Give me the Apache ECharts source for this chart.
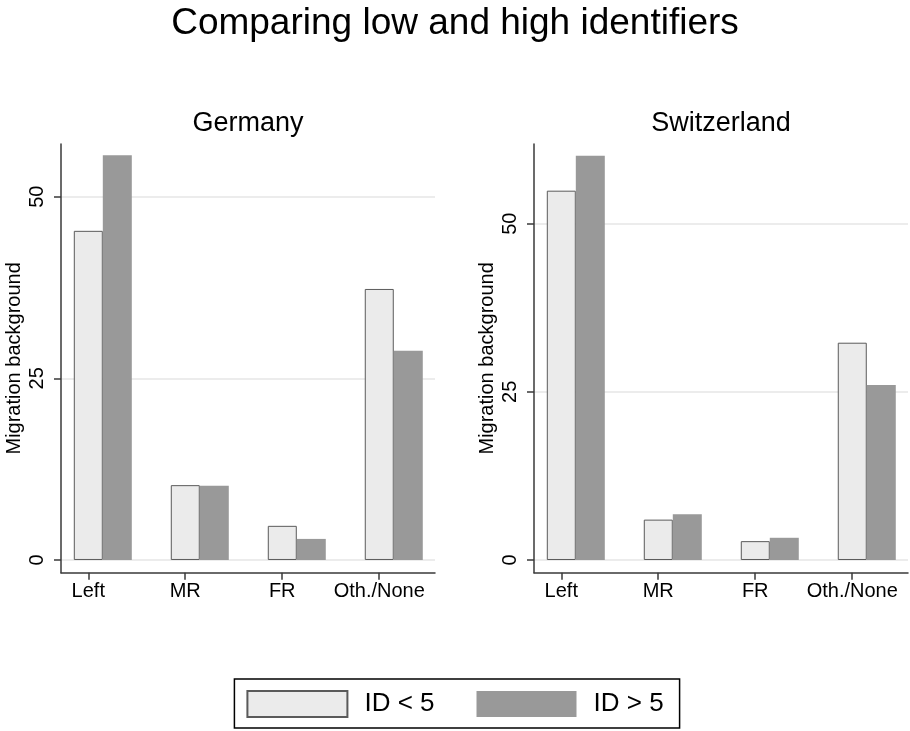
<!DOCTYPE html>
<html>
<head>
<meta charset="utf-8">
<title>Comparing low and high identifiers</title>
<script src="https://cdn.jsdelivr.net/npm/echarts@6/dist/echarts.min.js"></script>
<style>
  html, body { margin: 0; padding: 0; background: #fff; }
  #chart { width: 910px; height: 731px; }
</style>
</head>
<body>
<div id="chart"></div>
<script>
// Party categories on the x axis
const categories = ['Left', 'MR', 'FR', 'Oth./None'];

// Shares with a migration background, by identifier level
const germanyLow = [45.3, 10.3, 4.7, 37.3];
const germanyHigh = [55.7, 10.2, 2.9, 28.8];
const switzerlandLow = [54.9, 6.0, 2.8, 32.3];
const switzerlandHigh = [60.1, 6.8, 3.3, 26.0];

// Value-axis tick labels
const yTicks = [0, 25, 50];

const panelTitles = ['Germany', 'Switzerland'];
const seriesNames = ['ID < 5', 'ID > 5'];

const FONT = "'Liberation Sans', Arial, Helvetica, sans-serif";
const LOW_FILL = '#ebebeb';
const HIGH_FILL = '#999999';
const AXIS_COLOR = '#3a3a3a';

// Category ticks sit under the first bar of each pair (half a bar to the left)
const tickShift = -0.15;
const catTicks = categories.map((c, i) => i + tickShift);

const panels = [
  { title: panelTitles[0], low: germanyLow, high: germanyHigh, left: 61, yMin: -1.75, yMax: 57.25 },
  { title: panelTitles[1], low: switzerlandLow, high: switzerlandHigh, left: 534, yMin: -1.89, yMax: 61.84 }
];

const grids = [], xAxes = [], yAxes = [], series = [], titles = [];

titles.push({
  text: 'Comparing low and high identifiers',
  left: 'center',
  top: 5,
  padding: 0,
  textStyle: { fontFamily: FONT, fontSize: 37, fontWeight: 'normal', color: '#000' }
});

panels.forEach((p, k) => {
  grids.push({ left: p.left, top: 144, width: 374, height: 428.7 });
  titles.push({
    text: p.title,
    left: p.left + 187,
    textAlign: 'center',
    top: 110,
    padding: 0,
    textStyle: { fontFamily: FONT, fontSize: 27, fontWeight: 'normal', color: '#000' }
  });
  xAxes.push({
    gridIndex: k,
    type: 'value',
    min: -0.431,
    max: 3.425,
    axisLine: { show: true, onZero: false, lineStyle: { color: AXIS_COLOR, width: 1.5 } },
    axisTick: { show: true, inside: false, length: 7, customValues: catTicks,
                lineStyle: { color: AXIS_COLOR, width: 1.5 } },
    axisLabel: {
      customValues: catTicks,
      margin: 9,
      fontFamily: FONT, fontSize: 20, color: '#000',
      formatter: v => categories[Math.round(v - tickShift)]
    },
    splitLine: { show: false }
  });
  yAxes.push({
    gridIndex: k,
    type: 'value',
    min: p.yMin,
    max: p.yMax,
    name: 'Migration background',
    nameLocation: 'middle',
    nameGap: 37,
    nameTextStyle: { fontFamily: FONT, fontSize: 20, color: '#000' },
    axisLine: { show: true, onZero: false, lineStyle: { color: AXIS_COLOR, width: 1.5 } },
    axisTick: { show: true, inside: false, length: 7, customValues: yTicks,
                lineStyle: { color: AXIS_COLOR, width: 1.5 } },
    axisLabel: {
      customValues: yTicks,
      rotate: 90,
      margin: 14,
      fontFamily: FONT, fontSize: 20, color: '#000'
    },
    splitLine: { show: true, lineStyle: { color: '#e6e6e6', width: 1.5 } }
  });
  series.push({
    name: seriesNames[0],
    type: 'bar',
    xAxisIndex: k, yAxisIndex: k,
    barWidth: 29,
    barGap: '0%',
    itemStyle: { color: LOW_FILL, borderColor: '#5a5a5a', borderWidth: 1 },
    data: p.low.map((v, i) => [i, v])
  });
  series.push({
    name: seriesNames[1],
    type: 'bar',
    xAxisIndex: k, yAxisIndex: k,
    barWidth: 29,
    barGap: '0%',
    itemStyle: { color: HIGH_FILL, borderWidth: 0 },
    data: p.high.map((v, i) => [i, v])
  });
});

const chart = echarts.init(document.getElementById('chart'), null, { renderer: 'canvas' });
chart.setOption({
  animation: false,
  backgroundColor: '#fff',
  title: titles,
  grid: grids,
  xAxis: xAxes,
  yAxis: yAxes,
  legend: {
    data: seriesNames,
    left: 'center',
    top: 679,
    icon: 'rect',
    itemWidth: 100,
    itemHeight: 26,
    itemGap: 42,
    padding: [11, 16, 10, 12],
    borderColor: '#000',
    borderWidth: 1.5,
    borderRadius: 0,
    textStyle: { fontFamily: FONT, fontSize: 26, color: '#000', padding: [0, 0, 0, 12] }
  },
  series: series
});
</script>
</body>
</html>
